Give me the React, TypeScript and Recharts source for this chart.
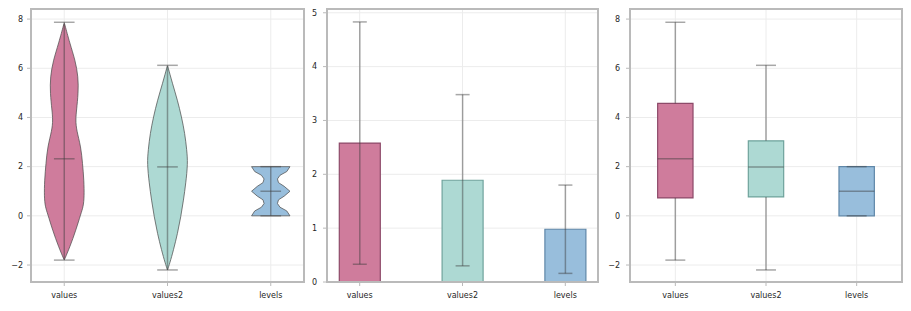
import React from 'react';
import {
  ComposedChart,
  BarChart,
  Bar,
  Cell,
  ErrorBar,
  Scatter,
  XAxis,
  YAxis,
  CartesianGrid,
  ReferenceLine,
  ReferenceArea,
} from 'recharts';

const CATEGORIES = ['values', 'values2', 'levels'];
const FILLS = ['#cf7c9c', '#add9d3', '#98bedc'];
const EDGES = ['#8d4a69', '#6fa39c', '#5f87a8'];

// per-column summary: min, quartiles, median, max
const MINS = [-1.8, -2.2, 0];
const Q1S = [0.73, 0.77, 0];
const MEDIANS = [2.32, 1.99, 1.0];
const Q3S = [4.57, 3.05, 2.0];
const MAXS = [7.87, 6.12, 2.0];

// per-column mean and standard deviation
const MEANS = [2.58, 1.89, 0.98];
const STDS = [2.25, 1.59, 0.82];

// violin outlines: density half-width (category units) along y
const VALUES_KDE_Y = [-1.8, -1.26, -0.58, 0.1, 0.37, 0.77, 1.45, 2.13, 2.8, 3.48, 3.9, 4.3, 4.98, 5.65, 6.33, 7.0, 7.86];
const VALUES_KDE_W = [0, 0.055, 0.113, 0.162, 0.184, 0.194, 0.191, 0.177, 0.162, 0.119, 0.11, 0.119, 0.136, 0.136, 0.106, 0.055, 0];
const VALUES2_KDE_Y = [-2.2, -1.93, -1.39, -0.72, -0.04, 0.64, 1.32, 2.13, 2.67, 3.35, 4.02, 4.7, 5.38, 6.12];
const VALUES2_KDE_W = [0, 0.022, 0.058, 0.097, 0.129, 0.155, 0.177, 0.197, 0.187, 0.168, 0.136, 0.097, 0.048, 0];
const LEVELS_KDE_Y = [0, 0.2, 0.35, 0.5, 0.65, 0.8, 1.0, 1.2, 1.35, 1.5, 1.65, 1.8, 2.0];
const LEVELS_KDE_W = [0.186, 0.155, 0.09, 0.065, 0.075, 0.13, 0.186, 0.13, 0.075, 0.065, 0.09, 0.155, 0.186];

const KDE_Y = [VALUES_KDE_Y, VALUES2_KDE_Y, LEVELS_KDE_Y];
const KDE_W = [VALUES_KDE_W, VALUES2_KDE_W, LEVELS_KDE_W];
// the levels violin is cut flat at both ends, keep its corners sharp
const OUTLINE_CURVE = ['basisClosed', 'basisClosed', 'linearClosed'];

const FRAME = '#bababa';
const GRID = '#ececec';
const STAT_COLOR = '#3c3c3c';
const STAT_LINE = { stroke: STAT_COLOR, strokeOpacity: 0.45, strokeWidth: 1.5 };
const TICK = { fontFamily: 'DejaVu Sans', fontSize: 8, fill: '#262626' };

const fmtNum = (v: number) => (v < 0 ? '\u2212' + Math.abs(v) : String(v));
const fmtCat = (v: number) => CATEGORIES[v] ?? '';

// closed outline: up the left side, back down the right side
const violinOutline = (i: number) => {
  const ys = KDE_Y[i];
  const ws = KDE_W[i];
  const left = ys.map((y, k) => ({ x: i - ws[k], y }));
  const right = ys.map((y, k) => ({ x: i + ws[k], y })).reverse();
  return [...left, ...right];
};

// inner violin marks: range line, caps at min/max, median tick
const violinStats = (i: number) => [
  [{ x: i, y: MINS[i] }, { x: i, y: MAXS[i] }],
  [{ x: i - 0.1, y: MINS[i] }, { x: i + 0.1, y: MINS[i] }],
  [{ x: i - 0.1, y: MAXS[i] }, { x: i + 0.1, y: MAXS[i] }],
  [{ x: i - 0.1, y: MEDIANS[i] }, { x: i + 0.1, y: MEDIANS[i] }],
];

const barRows = CATEGORIES.map((name, i) => ({ name, mean: MEANS[i], std: STDS[i] }));
const boxRows = CATEGORIES.map((name, i) => ({ x: i, name }));

const tickLine = { stroke: FRAME };
const noShape = () => <g />;

// plot-area border; rect is in page pixels
function Frame({ left, top, width, height }: { left: number; top: number; width: number; height: number }) {
  return (
    <div
      style={{
        position: 'absolute',
        boxSizing: 'border-box',
        left: left - 1,
        top: top - 1,
        width: width + 2,
        height: height + 2,
        border: `2px solid ${FRAME}`,
        pointerEvents: 'none',
      }}
    />
  );
}

function ViolinPanel() {
  return (
    <ComposedChart width={310} height={311} data={boxRows} margin={{ top: 9, right: 6, bottom: 0, left: 0 }}>
      <CartesianGrid stroke={GRID} />
      <XAxis type="number" dataKey="x" domain={[-0.322, 2.322]} ticks={[0, 1, 2]} tickFormatter={fmtCat} allowDataOverflow height={29} tick={TICK} tickSize={4} tickMargin={6} axisLine={false} tickLine={tickLine} />
      <YAxis type="number" domain={[-2.69, 8.41]} ticks={[-2, 0, 2, 4, 6, 8]} tickFormatter={fmtNum} allowDataOverflow width={31} tick={TICK} tickSize={4} tickMargin={4} axisLine={false} tickLine={tickLine} />
      {CATEGORIES.map((name, i) => (
        <Scatter
          key={name}
          name={name}
          data={violinOutline(i)}
          dataKey="y"
          isAnimationActive={false}
          shape={noShape}
          line={{ fill: FILLS[i], stroke: '#4a4a4a', strokeWidth: 0.8, strokeOpacity: 0.9 }}
          lineJointType={OUTLINE_CURVE[i] as any}
        />
      ))}
      {CATEGORIES.flatMap((name, i) =>
        violinStats(i).map((seg, k) => (
          <Scatter
            key={name + k}
            data={seg}
            dataKey="y"
            isAnimationActive={false}
            shape={noShape}
            line={{ ...STAT_LINE, fill: 'none' }}
            lineJointType="linear"
          />
        )),
      )}
    </ComposedChart>
  );
}

function BarPanel() {
  return (
    <BarChart width={300} height={311} data={barRows} margin={{ top: 9, right: 12, bottom: 0, left: 0 }}>
      <CartesianGrid stroke={GRID} />
      <XAxis dataKey="name" padding={{ left: -18.7, right: -18.7 }} height={29} tick={TICK} tickSize={4} tickMargin={6} axisLine={false} tickLine={tickLine} />
      <YAxis type="number" domain={[0, 5.07]} ticks={[0, 1, 2, 3, 4, 5]} allowDataOverflow width={17} tick={TICK} tickSize={4} tickMargin={6} axisLine={false} tickLine={tickLine} />
      <Bar dataKey="mean" barSize={41} isAnimationActive={false} strokeWidth={1.2}>
        {barRows.map((r, i) => (
          <Cell key={r.name} fill={FILLS[i]} stroke={EDGES[i]} />
        ))}
        <ErrorBar dataKey="std" width={7} {...STAT_LINE} isAnimationActive={false} />
      </Bar>
    </BarChart>
  );
}

function BoxPanel() {
  return (
    <ComposedChart width={313} height={311} data={boxRows} margin={{ top: 9, right: 9, bottom: 0, left: 0 }}>
      <CartesianGrid stroke={GRID} />
      <XAxis type="number" dataKey="x" domain={[-0.5, 2.5]} ticks={[0, 1, 2]} tickFormatter={fmtCat} allowDataOverflow height={29} tick={TICK} tickSize={4} tickMargin={6} axisLine={false} tickLine={tickLine} />
      <YAxis type="number" domain={[-2.69, 8.41]} ticks={[-2, 0, 2, 4, 6, 8]} tickFormatter={fmtNum} allowDataOverflow width={32} tick={TICK} tickSize={4} tickMargin={6} axisLine={false} tickLine={tickLine} />
      {CATEGORIES.map((name, i) => (
        <React.Fragment key={name}>
          <ReferenceLine segment={[{ x: i, y: Q3S[i] }, { x: i, y: MAXS[i] }]} {...STAT_LINE} />
          <ReferenceLine segment={[{ x: i, y: MINS[i] }, { x: i, y: Q1S[i] }]} {...STAT_LINE} />
          <ReferenceLine segment={[{ x: i - 0.11, y: MAXS[i] }, { x: i + 0.11, y: MAXS[i] }]} {...STAT_LINE} />
          <ReferenceLine segment={[{ x: i - 0.11, y: MINS[i] }, { x: i + 0.11, y: MINS[i] }]} {...STAT_LINE} />
          <ReferenceArea x1={i - 0.195} x2={i + 0.195} y1={Q1S[i]} y2={Q3S[i]} fill={FILLS[i]} fillOpacity={1} stroke={EDGES[i]} strokeWidth={1.2} />
          <ReferenceLine segment={[{ x: i - 0.195, y: MEDIANS[i] }, { x: i + 0.195, y: MEDIANS[i] }]} {...STAT_LINE} />
        </React.Fragment>
      ))}
    </ComposedChart>
  );
}

export default function App() {
  return (
    <div style={{ position: 'absolute', left: 0, top: 0, width: 911, height: 311, background: '#fff' }}>
      <div style={{ position: 'absolute', left: 0, top: 0 }}>
        <ViolinPanel />
      </div>
      <div style={{ position: 'absolute', left: 310, top: 0 }}>
        <BarPanel />
      </div>
      <div style={{ position: 'absolute', left: 598, top: 0 }}>
        <BoxPanel />
      </div>
      <Frame left={31} top={9} width={273} height={273} />
      <Frame left={327} top={9} width={271} height={273} />
      <Frame left={630} top={9} width={272} height={273} />
    </div>
  );
}
